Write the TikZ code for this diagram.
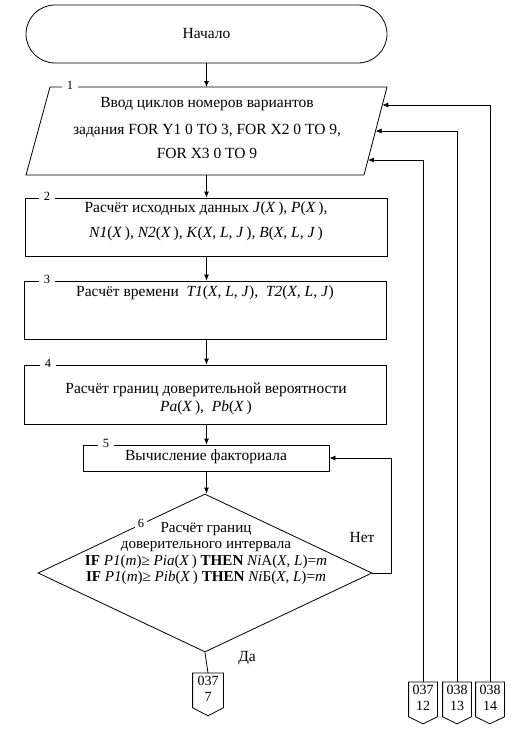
\documentclass[tikz,border=0pt]{standalone}
\usepackage{fontspec}
\setmainfont{Liberation Serif}
\usetikzlibrary{arrows.meta,shapes.geometric,calc}
\begin{document}
\begin{tikzpicture}[x=1pt,y=-1pt,
  font=\fontsize{15.5}{16.5}\selectfont,
  line width=0.8pt,
  arr/.style={-{Latex[length=6pt,width=5pt]}},
  blk/.style={draw, inner sep=0pt},
  txt/.style={align=center, inner sep=0pt},
  num/.style={fill=white, inner xsep=5pt, inner ysep=1pt, font=\fontsize{12.5}{14}\selectfont},
  conn/.style={minimum width=28pt, minimum height=41pt, inner sep=0pt, anchor=north},
  ctext/.style={align=center, inner sep=0pt, font=\fontsize{14}{16}\selectfont}
]
\useasboundingbox (0,0) rectangle (519,744);

% terminator
\node[draw, rounded corners=29pt, minimum width=361pt, minimum height=58pt] (start) at (206.5,34) {Начало};

% block 1 parallelogram
\coordinate (p1) at (50,87);
\coordinate (p2) at (387,87);
\coordinate (p3) at (364,175);
\coordinate (p4) at (26,175);
\draw (p1) -- (p2) -- (p3) -- (p4) -- cycle;
\node[num] (n1) at (70,85) {1};
\node[txt] (t1l1) at (207,104) {Ввод циклов номеров вариантов};
\node[txt] (t1l2) at (207,131) {задания FOR Y1 0 TO 3, FOR X2 0 TO 9,};
\node[txt] (t1l3) at (207,153) {FOR X3 0 TO 9};
\coordinate (e1) at ($(p2)!0.2045!(p3)$);
\coordinate (e2) at ($(p2)!0.5!(p3)$);
\coordinate (e3) at ($(p2)!0.8295!(p3)$);

% block 2
\node[blk, minimum width=362pt, minimum height=58pt] (b2) at (206,227) {};
\node[num] (n2) at (47,196) {2};
\node[txt] (t2) at (206,221.5) {Расчёт исходных данных \textit{J}(\textit{X}\,), \textit{P}(\textit{X}\,),\\[8pt]
\textit{N1}(\textit{X}\,), \textit{N2}(\textit{X}\,), \textit{K}(\textit{X}, \textit{L}, \textit{J}\,), \textit{B}(\textit{X}, \textit{L}, \textit{J}\,)};

% block 3
\node[blk, minimum width=362pt, minimum height=58pt] (b3) at (205,310) {};
\node[num] (n3) at (47,279) {3};
\node[txt] (t3) at (205,293) {Расчёт времени\ \ \textit{T1}(\textit{X}, \textit{L}, \textit{J}),\ \ \textit{T2}(\textit{X}, \textit{L}, \textit{J})};

% block 4
\node[blk, minimum width=362pt, minimum height=59pt] (b4) at (205,394.5) {};
\node[num] (n4) at (48,363) {4};
\node[txt] (t4) at (206,399) {Расчёт границ доверительной вероятности\\[2pt]
\textit{Pa}(\textit{X}\,),\ \ \textit{Pb}(\textit{X}\,)};

% block 5
\node[blk, minimum width=246pt, minimum height=26pt] (b5) at (206,458) {};
\node[num] (n5) at (106,443) {5};
\node[txt] (t5) at (206,457) {Вычисление факториала};

% block 6 decision
\node[draw, diamond, minimum width=334pt, minimum height=158pt, inner sep=0pt] (d6) at (205,573) {};
\node[num, inner xsep=3pt] (n6) at (141,523) {6};
\node[txt, font=\fontsize{15.1}{16.5}\selectfont] (t6) at (206,553.5) {Расчёт границ\\
доверительного интервала\\
\textbf{IF} \textit{P1}(\textit{m})≥ \textit{Pia}(\textit{X}\,) \textbf{THEN} \textit{Ni}А(\textit{X}, \textit{L})=\textit{m}\\
\textbf{IF} \textit{P1}(\textit{m})≥ \textit{Pib}(\textit{X}\,) \textbf{THEN} \textit{Ni}Б(\textit{X}, \textit{L})=\textit{m}};
\node[txt] (no) at (362,537) {Нет};
\node[txt] (yes) at (247,658) {Да};

% off-page connectors
\node[conn, minimum width=30pt, minimum height=42pt] (c7) at (208,673) {};
\node[conn] (c12) at (423,682) {};
\node[conn] (c13) at (457,682) {};
\node[conn] (c14) at (490,682) {};
\foreach \c/\h in {c7/8, c12/7, c13/7, c14/7}{
  \draw (\c.north west) -- (\c.north east) -- ($(\c.south east)+(0,-\h)$) -- (\c.south) -- ($(\c.south west)+(0,-\h)$) -- cycle;
}
\node[ctext] (c7t) at ($(c7.north)+(0,16)$) {037\\7};
\node[ctext] (c12t) at ($(c12.north)+(0,16)$) {037\\12};
\node[ctext] (c13t) at ($(c13.north)+(0,16)$) {038\\13};
\node[ctext] (c14t) at ($(c14.north)+(0,16)$) {038\\14};

% connectors
\draw[arr] (start.south) -- (start.south |- p1);
\draw[arr] (start.south |- p4) -- (b2.north -| start.south);
\draw[arr] (b2.south -| start.south) -- (b3.north -| start.south);
\draw[arr] (b3.south -| start.south) -- (b4.north -| start.south);
\draw[arr] (b4.south -| start.south) -- (b5.north -| start.south);
\draw[arr] (b5.south -| start.south) -- (d6.north -| start.south);
\draw[arr] (d6.east) -- ++(19,0) |- (b5.east);
\draw (d6.south) -- (c7.north);
\draw[arr] (c14.north) |- (e1);
\draw[arr] (c13.north) |- (e2);
\draw[arr] (c12.north) |- (e3);
\end{tikzpicture}
\end{document}
